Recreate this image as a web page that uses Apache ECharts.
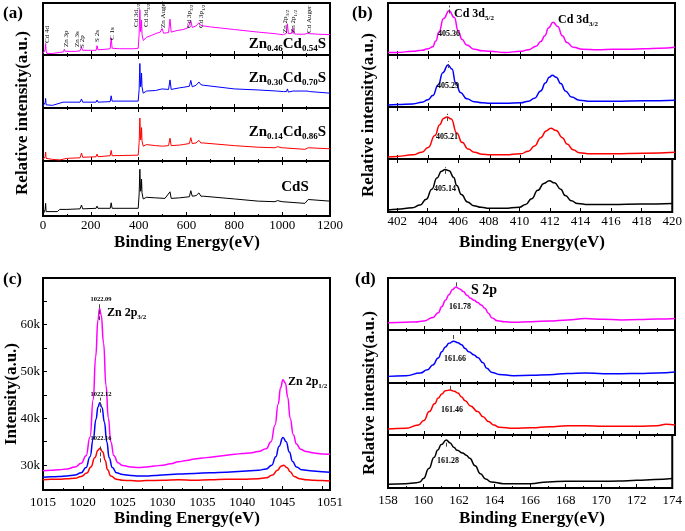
<!DOCTYPE html>
<html><head><meta charset="utf-8">
<script src="https://cdn.jsdelivr.net/npm/echarts@6/dist/echarts.min.js"></script>
<style>html,body{margin:0;padding:0;background:#fff}#c{width:685px;height:531px}</style>
</head><body><div id="c"></div>
<script>
// ---------- (a) XPS survey spectra, relative intensity per sub-panel ----------
const surveyTicks = [0, 200, 400, 600, 800, 1000, 1200];
const survey_Zn046 = [[0,3],[6,3],[9,10],[11,22],[13,8],[16,3],[40,3],[70,5],[86,6],[89,11],[93,7],[120,7],[137,7],[140,10],[143,7],[155,8],[161,15],[166,9],[200,9],[222,9],[226,18],[230,10],[260,11],[281,12],[285,33],[289,13],[320,12],[380,12],[398,13],[402,40],[405,87],[408,45],[411,55],[412,67],[414,40],[419,28],[433,34],[455,38],[470,41],[474,44],[478,41],[490,44],[498,51],[504,42],[525,43],[531,69],[536,44],[560,47],[586,49],[605,52],[612,54],[618,66],[624,53],[640,56],[652,62],[660,57],[670,56],[700,54],[800,49],[900,44],[970,41],[977,43],[985,40],[1005,39],[1018,42],[1022,60],[1026,41],[1033,40],[1042,42],[1045,51],[1049,41],[1060,40],[1095,40],[1104,42],[1109,43],[1115,41],[1150,40],[1200,39]];
const survey_Zn030 = [[0,4],[6,4],[9,10],[11,18],[13,6],[16,3],[40,5],[84,11],[89,13],[93,11],[155,11],[161,17],[166,11],[222,11],[226,15],[230,11],[281,12],[285,23],[289,13],[398,13],[402,35],[405,84],[408,40],[411,50],[412,66],[414,40],[419,28],[433,32],[470,33],[474,35],[478,33],[498,36],[504,34],[525,35],[531,53],[536,35],[570,38],[586,39],[612,41],[618,52],[624,40],[640,43],[652,49],[660,44],[670,43],[800,36],[900,34],[977,32],[985,31],[1005,31],[1018,31],[1022,36],[1026,30],[1045,32],[1049,30],[1104,32],[1109,33],[1115,31],[1200,28]];
const survey_Zn014 = [[0,3],[6,2],[9,8],[11,17],[13,5],[16,2],[40,3],[70,2],[100,5],[155,6],[161,15],[166,7],[222,8],[226,13],[230,8],[281,10],[285,20],[289,10],[398,11],[402,35],[405,81],[408,40],[411,48],[412,63],[414,38],[419,28],[433,31],[470,29],[500,28],[525,29],[531,43],[536,29],[570,30],[586,31],[612,33],[618,44],[624,33],[640,34],[652,39],[660,34],[670,34],[800,29],[900,26],[970,25],[980,27],[1000,25],[1095,22],[1100,20],[1109,25],[1115,24],[1200,23]];
const survey_CdS = [[0,2],[5,5],[9,12],[11,23],[13,8],[20,7],[60,8],[70,12],[100,12],[155,13],[161,20],[166,13],[222,14],[226,18],[230,14],[281,14],[285,24],[289,14],[398,14],[402,40],[405,85],[408,45],[411,52],[412,67],[414,42],[419,31],[433,34],[470,33],[510,32],[531,44],[536,32],[570,33],[612,35],[618,46],[624,36],[640,37],[652,42],[660,36],[670,36],[800,31],[900,27],[970,26],[980,28],[1000,26],[1095,23],[1100,24],[1109,30],[1115,28],[1200,27]];

// ---------- (b) Cd 3d ----------
const cdTicks = [402, 404, 406, 408, 410, 412, 414, 416, 418, 420];
const cd_Zn046 = [[401.4,5],[402,5],[403,7],[403.6,9],[404,12],[404.3,16],[404.5,27],[404.7,44],[405,70],[405.36,85],[405.7,72],[405.95,46],[406.2,30],[406.5,19],[407,11],[407.5,8],[408,7],[409,5],[410,7],[410.5,10],[411,17],[411.3,26],[411.57,37],[411.8,52],[412.1,63],[412.4,55],[412.7,37],[413,24],[413.4,15],[414,11],[415,10],[416,11],[417,11],[418,12],[419,13],[420,15]];
const cd_Zn030 = [[401.4,4],[402,5],[403,6],[403.6,9],[404,14],[404.3,22],[404.66,43],[404.95,66],[405.29,81],[405.55,73],[405.78,47],[406.1,28],[406.5,16],[407,10],[407.5,8],[408,7],[409,7],[410,8],[410.5,11],[410.9,17],[411.3,31],[411.6,46],[411.85,57],[412.05,61],[412.3,57],[412.6,45],[412.9,31],[413.3,19],[413.8,13],[414.5,11],[416,11],[418,12],[420,13]];
const cd_Zn014 = [[401.4,4],[402,5],[403,8],[403.6,13],[404,22],[404.44,45],[404.75,66],[405,78],[405.21,81],[405.5,77],[405.85,50],[406.2,32],[406.6,19],[407,13],[407.5,9],[408,8],[409,8],[410,10],[410.5,15],[410.9,25],[411.3,41],[411.65,54],[411.95,59],[412.3,55],[412.7,41],[413,29],[413.4,18],[413.8,12],[414.5,10],[416,10],[418,11],[420,13]];
const cd_CdS = [[401.4,4],[402,5],[403,8],[403.5,13],[403.9,24],[404.27,43],[404.6,64],[404.9,77],[405.14,80],[405.4,78],[405.7,65],[405.9,50],[406.2,33],[406.6,19],[407,12],[407.5,9],[408,7],[409,7],[410,9],[410.4,14],[410.8,25],[411.2,41],[411.6,54],[411.95,59],[412.3,55],[412.7,43],[413,31],[413.4,21],[413.8,16],[414.5,14],[416,14],[418,15],[420,16]];
const cdPeaks = [405.36, 405.29, 405.21, 405.14];

// ---------- (c) Zn 2p, intensity in thousands ----------
const znYTicks = [30, 40, 50, 60];
const zn_Zn046 = [[1015,28.8],[1016,28.9],[1017,29.0],[1018,29.2],[1019,29.6],[1019.8,30.4],[1020.4,32.0],[1020.9,36.0],[1021.3,44.0],[1021.6,53.0],[1021.9,61.0],[1022.09,63.4],[1022.3,62.0],[1022.6,56.0],[1022.9,47.0],[1023.2,40.0],[1023.5,35.0],[1023.9,32.0],[1024.4,30.5],[1025,29.9],[1026,29.6],[1027,29.5],[1028,29.6],[1029,29.8],[1030,30.0],[1031,30.3],[1032,30.7],[1033,31.0],[1034,31.3],[1035,31.5],[1036,31.7],[1037,31.9],[1038,32.1],[1039,32.3],[1040,32.5],[1041,32.6],[1042,32.9],[1043,33.5],[1043.6,35.0],[1044.1,38.5],[1044.5,43.0],[1044.8,46.5],[1045.1,48.2],[1045.4,47.5],[1045.7,44.5],[1046,40.0],[1046.4,36.5],[1046.8,34.5],[1047.3,33.4],[1048,32.9],[1049,32.6],[1050,32.4],[1051,32.3]];
const zn_Zn030 = [[1015,27.4],[1016,27.5],[1017,27.6],[1018,27.7],[1019,27.9],[1019.8,28.4],[1020.4,29.5],[1020.9,31.8],[1021.3,35.5],[1021.65,39.8],[1021.9,42.4],[1022.12,43.3],[1022.4,42.3],[1022.7,39.2],[1023,35.0],[1023.3,31.6],[1023.7,29.5],[1024.2,28.4],[1025,28.0],[1026,27.8],[1027,27.7],[1028,27.7],[1029,27.8],[1030,27.9],[1032,28.1],[1034,28.2],[1036,28.4],[1038,28.5],[1040,28.7],[1042,28.9],[1043,29.2],[1043.7,30.0],[1044.2,31.8],[1044.6,34.0],[1045.1,35.9],[1045.5,35.0],[1045.9,32.8],[1046.3,30.8],[1046.8,29.6],[1047.5,29.0],[1048.5,28.8],[1050,28.6],[1051,28.5]];
const zn_Zn014 = [[1015,26.9],[1016,27.0],[1017,27.0],[1018,27.1],[1019,27.2],[1019.8,27.6],[1020.5,28.3],[1021,29.6],[1021.5,31.6],[1021.9,33.2],[1022.16,33.6],[1022.5,32.8],[1022.8,31.0],[1023.1,29.0],[1023.5,27.7],[1024.2,27.0],[1025,26.8],[1026,26.7],[1027,26.6],[1028,26.7],[1030,26.8],[1032,26.9],[1034,26.8],[1036,26.9],[1038,27.0],[1040,27.0],[1042,27.1],[1043,27.3],[1043.8,27.9],[1044.4,28.9],[1044.9,29.8],[1045.2,30.0],[1045.6,29.5],[1046,28.6],[1046.5,27.6],[1047.2,27.1],[1048,26.9],[1049,26.8],[1050,26.7],[1051,26.6]];
const znPeaks = [1022.09, 1022.12, 1022.16];

// ---------- (d) S 2p ----------
const sTicks = [158, 160, 162, 164, 166, 168, 170, 172, 174];
const s_Zn046 = [[158,14],[159,15],[159.5,15.5],[160,17.4],[160.5,24],[160.8,33],[161,45],[161.2,57],[161.4,68],[161.6,78],[161.78,82.6],[162,79],[162.2,74],[162.4,67],[162.6,61],[162.8,57],[163,53],[163.2,48],[163.4,42],[163.6,32],[163.8,23],[164.1,18],[164.5,16],[165,15],[166,16],[167,17.4],[168,19.4],[169,22],[170,20.6],[171,19.4],[172,20],[173,21],[174,22]];
const s_Zn030 = [[158,12.5],[159,13.8],[159.8,18.8],[160.2,25],[160.5,34],[160.8,47],[161,59],[161.2,68],[161.4,75],[161.66,79],[161.9,76],[162.1,72],[162.3,65],[162.5,59],[162.8,53],[163,48],[163.3,38],[163.5,28],[163.8,20],[164.2,16],[165,13.8],[166,14.4],[167,15.6],[168,18],[169,19],[170,17.5],[171,17.5],[172,18],[173,19],[174,20.6]];
const s_Zn014 = [[158,11.6],[159,13],[159.7,19.4],[160,28],[160.3,45],[160.6,60],[160.8,71],[161,79],[161.2,85],[161.46,86.5],[161.7,84],[161.9,80.6],[162.1,73],[162.3,66],[162.6,56],[163,45],[163.3,35],[163.6,26],[163.9,19],[164.2,15],[165,13],[166,14],[167,16],[168,18],[169,18],[170,16.8],[171,16.8],[172,16.8],[173,18],[173.5,20.6],[174,19.4]];
const s_CdS = [[158,7],[159,8.2],[159.6,10],[159.8,11.4],[160,18],[160.3,36.7],[160.6,58],[160.8,71.5],[161,82],[161.28,90.5],[161.5,85],[161.7,77],[161.9,71],[162.2,66],[162.4,62],[162.6,56],[162.9,42],[163.2,27],[163.5,17],[163.8,11.4],[164.5,8.2],[165,8],[166,8.2],[167,11.4],[168,12.7],[169,12.7],[170,12.7],[171,13],[172,14.6],[173,16],[174,17.7]];
const sPeaks = [161.78, 161.66, 161.46, 161.28];

const COLORS = ['#ff00ff', '#0000ff', '#ff0000', '#000000'];
const FONT = '"Liberation Serif","DejaVu Serif",serif';

const grid = [], xAxis = [], yAxis = [], series = [], graphic = [];

function addGrid(g) {
  const gi = grid.length;
  grid.push({left: g.left, top: g.top, width: g.width, height: g.height, show: true,
    borderColor: '#000', borderWidth: 2, backgroundColor: 'rgba(0,0,0,0)'});
  const mk = (pos, labels) => {
    const a = {type: 'value', gridIndex: gi, position: pos, min: g.xmin, max: g.xmax,
      axisLine: {show: false}, splitLine: {show: false},
      axisTick: {show: true, inside: true, length: 4, lineStyle: {color: '#000', width: 1}},
      minorTick: {show: !!g.minor, splitNumber: g.minor || 2, length: 2, lineStyle: {color: '#000', width: 1}},
      axisLabel: {show: labels, color: '#000', fontFamily: FONT, fontSize: 13, margin: g.margin || 4,
        showMinLabel: true, showMaxLabel: true, formatter: v => String(v)}};
    if (g.interval) a.interval = g.interval;
    if (g.custom) { a.axisTick.customValues = g.custom; a.axisLabel.customValues = g.custom; }
    return a;
  };
  const xi = xAxis.length;
  xAxis.push(mk('bottom', !!g.labels));
  if (g.topTicks) xAxis.push(mk('top', false));
  const yi = yAxis.length;
  if (g.yShow) {
    yAxis.push({type: 'value', gridIndex: gi, min: g.ymin, max: g.ymax,
      axisLine: {show: false}, splitLine: {show: false},
      axisTick: {show: true, inside: true, length: 4, customValues: g.yTickValues, lineStyle: {color: '#000'}},
      axisLabel: {show: true, color: '#000', fontFamily: FONT, fontSize: 13, margin: 3,
        customValues: g.yLabelValues, formatter: v => v + 'k'}});
  } else {
    yAxis.push({type: 'value', gridIndex: gi, min: g.ymin, max: g.ymax, show: false});
  }
  return {xi, yi};
}

function addLine(ax, data, color, width, smooth, mark) {
  const s = {type: 'line', xAxisIndex: ax.xi, yAxisIndex: ax.yi, data, symbol: 'none', showSymbol: false,
    smooth: smooth, smoothMonotone: 'x', lineStyle: {color, width}, itemStyle: {color}, silent: true, z: 3};
  if (mark) {
    s.markLine = {silent: true, symbol: ['none', 'none'], label: {show: false},
      lineStyle: {type: 'dashed', color: '#444', width: 1},
      data: [[{coord: [mark[0], mark[1]]}, {coord: [mark[0], mark[2]]}]]};
  }
  series.push(s);
}

// (a)
const aB = [3, 55, 108, 161, 216];
const aData = [survey_Zn046, survey_Zn030, survey_Zn014, survey_CdS];
aData.forEach((d, i) => {
  const ax = addGrid({left: 43, top: aB[i], width: 287, height: aB[i + 1] - aB[i], xmin: 0, xmax: 1200,
    interval: 200, minor: 2, labels: i === 3, topTicks: i > 0, ymin: 0, ymax: 100, margin: 3});
  addLine(ax, d, COLORS[i], 1, false, null);
});
// (b)
const bB = [3, 55, 107, 159, 212];
const bData = [cd_Zn046, cd_Zn030, cd_Zn014, cd_CdS];
const bMarks = [[80, 95], [75, 88], [73, 87], [72, 85]];
bData.forEach((d, i) => {
  const ax = addGrid({left: 388, top: bB[i], width: 287, height: bB[i + 1] - bB[i], xmin: 401.4, xmax: 420,
    custom: cdTicks, labels: i === 3, topTicks: i > 0, ymin: 0, ymax: 100, margin: 3});
  addLine(ax, d, COLORS[i], 1.5, 0.5, [cdPeaks[i], bMarks[i][0], bMarks[i][1]]);
});
// (c)
const cAx = addGrid({left: 43, top: 278, width: 287, height: 212, xmin: 1015, xmax: 1051, interval: 5, minor: 2,
  labels: true, ymin: 24.7, ymax: 69.9, yShow: true, yTickValues: [30, 35, 40, 45, 50, 55, 60, 65],
  yLabelValues: znYTicks, margin: 6});
const cData = [zn_Zn046, zn_Zn030, zn_Zn014];
const cMarks = [[60.9, 64.6], [41.2, 44.4], [30.6, 34.4]];
cData.forEach((d, i) => addLine(cAx, d, COLORS[i], 1.5, 0.5, [znPeaks[i], cMarks[i][0], cMarks[i][1]]));
// (d)
const dB = [278, 330, 383, 435, 488];
const dData = [s_Zn046, s_Zn030, s_Zn014, s_CdS];
const dMarks = [[84, 94], [83, 92], [87, 96], [78, 89]];
dData.forEach((d, i) => {
  const ax = addGrid({left: 388, top: dB[i], width: 287, height: dB[i + 1] - dB[i], xmin: 158, xmax: 174,
    interval: 2, minor: 2, labels: i === 3, topTicks: i > 0, ymin: 0, ymax: 100, margin: 6});
  addLine(ax, d, COLORS[i], 1.5, 0.5, [sPeaks[i], dMarks[i][0], dMarks[i][1]]);
});

// ---------- text ----------
function T(x, y, text, o) {
  o = o || {};
  const size = o.size || 13, w = o.bold ? 'bold' : 'normal';
  const st = {text, fill: '#000', fontFamily: FONT, fontSize: size, fontWeight: w,
    align: o.align || 'left', verticalAlign: o.va || 'middle'};
  if (o.sub) {
    st.rich = {
      m: {fontFamily: FONT, fontSize: size, fontWeight: w, fill: '#000', lineHeight: size + 4},
      s: {fontFamily: FONT, fontSize: o.sub, fontWeight: w, fill: '#000', lineHeight: o.sub, verticalAlign: 'bottom'}
    };
  }
  graphic.push({type: 'text', x, y, rotation: o.rot || 0, z: 100, silent: true, style: st});
}
const R = Math.PI / 2;
// panel letters
T(3, 14, '(a)', {size: 17, bold: true});
T(352, 14, '(b)', {size: 17, bold: true});
T(3, 280, '(c)', {size: 17, bold: true});
T(355, 280, '(d)', {size: 17, bold: true});
// axis titles
T(187, 243, 'Binding Energy(eV)', {size: 17, bold: true, align: 'center'});
T(532, 243, 'Binding Energy(eV)', {size: 17, bold: true, align: 'center'});
T(187, 519, 'Binding Energy(eV)', {size: 17, bold: true, align: 'center'});
T(532, 519, 'Binding Energy(eV)', {size: 17, bold: true, align: 'center'});
T(23, 113, 'Relative intensity(a.u.)', {size: 17, bold: true, align: 'center', rot: R});
T(369, 115, 'Relative intensity(a.u.)', {size: 17, bold: true, align: 'center', rot: R});
T(12, 394, 'Intensity(a.u.)', {size: 17, bold: true, align: 'center', rot: R});
T(370, 393, 'Relative intensity(a.u.)', {size: 17, bold: true, align: 'center', rot: R});
// (a) sample names
T(326, 44, '{m|Zn}{s|0.46}{m|Cd}{s|0.54}{m|S}', {size: 15, bold: true, sub: 9, align: 'right'});
T(326, 78, '{m|Zn}{s|0.30}{m|Cd}{s|0.70}{m|S}', {size: 15, bold: true, sub: 9, align: 'right'});
T(326, 132, '{m|Zn}{s|0.14}{m|Cd}{s|0.86}{m|S}', {size: 15, bold: true, sub: 9, align: 'right'});
T(295, 187, 'CdS', {size: 15, bold: true, align: 'center'});
// (a) peak assignments (vertical)
const aPeakLabels = [
  [47, 43, '{m|Cd 4d}'], [66, 47, '{m|Zn 3p}'], [77, 47, '{m|Zn 3s}'], [82, 48, '{m|S 2p}'],
  [97, 42, '{m|S 2s}'], [112, 40, '{m|C 1s}'], [136, 27, '{m|Cd 3d}{s|5/2}'], [146, 27, '{m|Cd 3d}{s|3/2}'],
  [163, 28, '{m|Zn Auger}'], [189, 28, '{m|Cd 3p}{s|3/2}'], [201, 28, '{m|Cd 3p}{s|1/2}'],
  [285, 33, '{m|Zn 2p}{s|3/2}'], [293, 33, '{m|Zn 2p}{s|1/2}'], [309, 33, '{m|Cd Auger}']];
aPeakLabels.forEach(p => T(p[0], p[1], p[2], {size: 7, sub: 5, rot: R}));
// (b)
T(454, 14, '{m|Cd 3d}{s|5/2}', {size: 12, bold: true, sub: 7});
T(558, 20, '{m|Cd 3d}{s|3/2}', {size: 12, bold: true, sub: 7});
[[449, 34, '405.36'], [448, 86, '405.29'], [447, 137, '405.21'], [445, 189, '405.14']]
  .forEach(p => T(p[0], p[1], p[2], {size: 8, bold: true, align: 'center'}));
// (c)
T(107, 313, '{m|Zn 2p}{s|3/2}', {size: 12, bold: true, sub: 7});
T(288, 382, '{m|Zn 2p}{s|1/2}', {size: 12, bold: true, sub: 7});
[[101, 299, '1022.09'], [101, 394, '1022.12'], [101, 438, '1022.16']]
  .forEach(p => T(p[0], p[1], p[2], {size: 6.5, bold: true, align: 'center'}));
// (d)
T(471, 290, 'S 2p', {size: 14, bold: true});
[[460, 307, '161.78'], [455, 359, '161.66'], [452, 410, '161.46'], [448, 461, '161.28']]
  .forEach(p => T(p[0], p[1], p[2], {size: 8, bold: true, align: 'center'}));

const chart = echarts.init(document.getElementById('c'), null, {renderer: 'canvas'});
chart.setOption({animation: false, backgroundColor: '#fff', grid, xAxis, yAxis, series, graphic});
</script></body></html>
